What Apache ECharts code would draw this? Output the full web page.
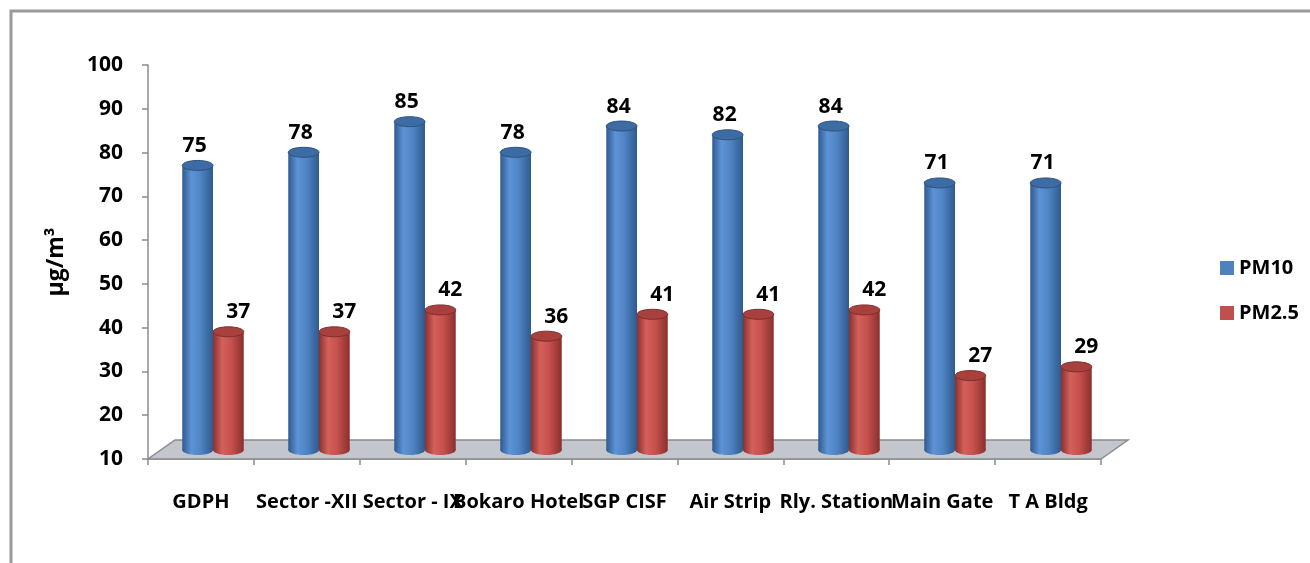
<!DOCTYPE html>
<html>
<head>
<meta charset="utf-8">
<script src="https://cdn.jsdelivr.net/npm/echarts@6/dist/echarts.min.js"></script>
<style>html,body{margin:0;padding:0;background:#fff;}#c{width:1310px;height:563px;}</style>
</head>
<body>
<div id="c"></div>
<script>
var categories = ['GDPH', 'Sector -XII', 'Sector - IX', 'Bokaro Hotel', 'SGP CISF', 'Air Strip', 'Rly. Station', 'Main Gate', 'T A Bldg'];
var pm10 = [75, 78, 85, 78, 84, 82, 84, 71, 71];
var pm25 = [37, 37, 42, 36, 41, 41, 42, 27, 29];
var seriesNames = ['PM10', 'PM2.5'];
var yMin = 10, yMax = 100, yStep = 10;

var FONT = '"Open Sans", Lato, sans-serif';
var chart = echarts.init(document.getElementById('c'));

var palettes = [
  {edge: '#2f5a8e', light: '#5d93d6', mid: '#4f84c4', topFill: '#3d6ca5', topStroke: '#2c5280', legend: '#4f81bd', dx: -3},
  {edge: '#8a302d', light: '#d4605c', mid: '#c5504c', topFill: '#a8413e', topStroke: '#7e2d2a', legend: '#c0504d', dx: 10}
];

function bodyGrad(p) {
  return new echarts.graphic.LinearGradient(0, 0, 1, 0, [
    {offset: 0, color: p.edge},
    {offset: 0.3, color: p.light},
    {offset: 0.6, color: p.mid},
    {offset: 1, color: p.edge}
  ]);
}

function makeRender(sign, p) {
  return function (params, api) {
    var cat = api.value(0), val = api.value(1);
    var top = api.coord([cat, val]);
    var base = api.coord([cat, yMin]);
    var bw = api.size([1, 0])[0] * 0.29;
    var cx = top[0] + sign * bw / 2;
    var rx = bw / 2, ry = 5;
    return {
      type: 'group',
      children: [
        {type: 'ellipse', shape: {cx: cx, cy: base[1], rx: rx, ry: ry}, style: {fill: bodyGrad(p)}},
        {type: 'rect', shape: {x: cx - rx, y: top[1], width: bw, height: base[1] - top[1]}, style: {fill: bodyGrad(p)}},
        {type: 'ellipse', shape: {cx: cx, cy: top[1], rx: rx, ry: ry}, style: {fill: p.topFill, stroke: p.topStroke, lineWidth: 1}},
        {type: 'text', style: {text: String(val), x: cx + p.dx, y: top[1] - 9, align: 'center', verticalAlign: 'bottom', font: 'bold 21px ' + FONT, fill: '#000'}}
      ]
    };
  };
}

function floorRender(params, api) {
  var cs = params.coordSys;
  var x0 = cs.x, x1 = cs.x + cs.width, y = cs.y + cs.height;
  return {
    type: 'polygon',
    shape: {points: [[x0, y], [x1, y], [x1 + 27, y - 19], [x0 + 27, y - 19]]},
    style: {fill: '#c3c7cd', stroke: '#8c8c8c', lineWidth: 1.5},
    z2: 0
  };
}

var option = {
  backgroundColor: '#fff',
  animation: false,
  graphic: [{type: 'rect', shape: {x: 11, y: 11, width: 1400, height: 700}, style: {fill: 'none', stroke: '#9a9a9a', lineWidth: 3}, z: -10}],
  legend: {
    orient: 'vertical', left: 1215, top: 253, itemGap: 25, itemWidth: 14, itemHeight: 14,
    icon: 'rect',
    textStyle: {fontFamily: FONT, fontWeight: 'bold', fontSize: 20, color: '#000', padding: [0, 0, 0, 0]},
    data: seriesNames
  },
  grid: [
    {left: 148, right: 209, top: 65, bottom: 104},
    {left: 160, right: 196, top: 56, bottom: 113}
  ],
  xAxis: [
    {type: 'category', gridIndex: 0, data: categories,
     axisLine: {show: true, lineStyle: {color: '#8c8c8c', width: 1.5}},
     axisTick: {show: true, length: 6, lineStyle: {color: '#8c8c8c', width: 1.5}},
     axisLabel: {interval: 0, margin: 33, fontFamily: FONT, fontWeight: 'bold', fontSize: 20, color: '#000'}},
    {type: 'category', gridIndex: 1, data: categories, show: false}
  ],
  yAxis: [
    {type: 'value', gridIndex: 0, min: yMin, max: yMax, interval: yStep,
     name: 'µg/m³', nameLocation: 'middle', nameGap: 80, nameRotate: 90,
     nameTextStyle: {fontFamily: FONT, fontWeight: 'bold', fontSize: 23, color: '#000'},
     axisLine: {show: true, lineStyle: {color: '#8c8c8c', width: 1.5}},
     axisTick: {show: true, length: 6, lineStyle: {color: '#8c8c8c', width: 1.5}},
     splitLine: {show: false},
     axisLabel: {margin: 25, fontFamily: FONT, fontWeight: 'bold', fontSize: 21, color: '#000'}},
    {type: 'value', gridIndex: 1, min: yMin, max: yMax, interval: yStep, show: false, splitLine: {show: false}}
  ],
  series: [
    {type: 'custom', name: '_floor', xAxisIndex: 0, yAxisIndex: 0, data: [[0, yMin]], renderItem: floorRender, silent: true, z: 1},
    {type: 'custom', name: seriesNames[0], xAxisIndex: 1, yAxisIndex: 1, z: 2,
     itemStyle: {color: palettes[0].legend},
     data: pm10.map(function (v, i) { return [i, v]; }), encode: {x: 0, y: 1},
     renderItem: makeRender(-1, palettes[0])},
    {type: 'custom', name: seriesNames[1], xAxisIndex: 1, yAxisIndex: 1, z: 2,
     itemStyle: {color: palettes[1].legend},
     data: pm25.map(function (v, i) { return [i, v]; }), encode: {x: 0, y: 1},
     renderItem: makeRender(1, palettes[1])}
  ]
};
chart.setOption(option);
</script>
</body>
</html>
